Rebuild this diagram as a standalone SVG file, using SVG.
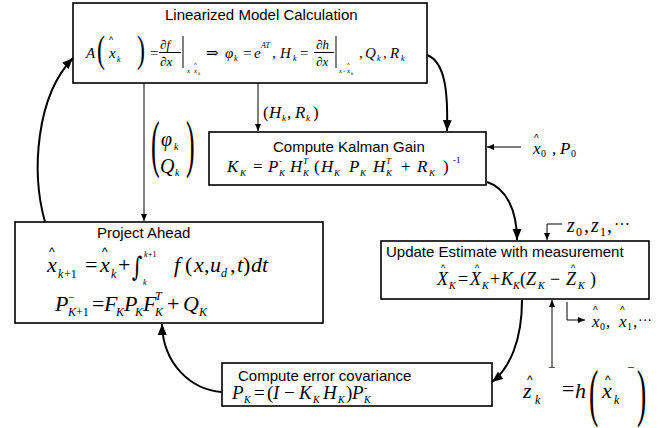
<svg xmlns="http://www.w3.org/2000/svg" width="670" height="428" viewBox="0 0 670 428">
<defs>
<style>
.box{fill:#fff;stroke:#000;stroke-width:1.6}
.title{font-family:"Liberation Sans",Arial,sans-serif;font-size:15px;fill:#000}
.m{font-family:"Liberation Serif","Times New Roman","DejaVu Serif",serif;font-style:italic;fill:#000}
.n{font-style:normal}
.hat{font-family:"Liberation Sans",Arial,sans-serif;font-style:normal;fill:#000}
.c{fill:none;stroke:#000;stroke-width:2}
.t{fill:none;stroke:#000;stroke-width:1}
.ln{stroke:#000;stroke-width:1;fill:none}
</style>
<marker id="big" markerUnits="userSpaceOnUse" markerWidth="12" markerHeight="10" refX="11" refY="4.5" orient="auto">
<path d="M0,0 L11,4.5 L0,9 z" fill="#000"/>
</marker>
<marker id="sm" markerUnits="userSpaceOnUse" markerWidth="8" markerHeight="7" refX="7" refY="3" orient="auto">
<path d="M0,0 L7,3 L0,6 z" fill="#000"/>
</marker>
</defs>
<rect width="670" height="428" fill="#fff"/>

<g id="connectors">
<path class="c" d="M45,222 C31,172 36,96 73,58" marker-end="url(#big)"/>
<path class="c" d="M427,55 C446,62 448,95 447,131" marker-end="url(#big)"/>
<path class="c" d="M487,182 C506,188 517,210 517,240" marker-end="url(#big)"/>
<path class="c" d="M522,300 C522,340 510,368 492,382" marker-end="url(#big)"/>
<path class="c" d="M222,392 C192,390 163,365 162,324" marker-end="url(#big)"/>
<path class="t" d="M144,83 V221" marker-end="url(#sm)"/>
<path class="t" d="M258,83 V131" marker-end="url(#sm)"/>
<path class="t" d="M521,147 H487" marker-end="url(#sm)"/>
<path class="t" d="M562,224 H547 V240" marker-end="url(#sm)"/>
<path class="t" d="M567,302 V320 H585" marker-end="url(#sm)"/>
<path class="t" d="M552,367 V300" marker-end="url(#sm)"/>
<!-- (H_k, R_k) label -->
<text class="m" font-size="17"><tspan class="n" x="263" y="118">(</tspan><tspan x="269" y="118">H</tspan><tspan x="282" y="121" font-size="9">k</tspan><tspan class="n" x="287" y="118">,</tspan><tspan x="295" y="118">R</tspan><tspan x="306" y="121" font-size="9">k</tspan><tspan class="n" x="313" y="118">)</tspan></text>
<!-- (phi_k ; Q_k) label -->
<text class="m n" font-size="26" transform="translate(151,165) scale(1,2.45)">(</text>
<text class="m n" font-size="26" transform="translate(186,165) scale(1,2.45)">)</text>
<text class="m" font-size="20"><tspan x="161" y="146">φ</tspan><tspan x="174" y="150" font-size="10">k</tspan><tspan x="160" y="173">Q</tspan><tspan x="175" y="176" font-size="10">k</tspan></text>
<!-- x0, P0 -->
<text class="m" font-size="17"><tspan x="533" y="154">x</tspan><tspan class="n" x="541" y="157" font-size="10">0</tspan><tspan class="n" x="552" y="154">,</tspan><tspan x="560" y="154">P</tspan><tspan class="n" x="571" y="157" font-size="10">0</tspan></text>
<text class="hat" font-size="10" x="534" y="142">^</text>
<!-- z0, z1 -->
<text class="m" font-size="20"><tspan x="567" y="232">z</tspan><tspan class="n" x="576" y="236" font-size="12">0</tspan><tspan class="n" x="584" y="232">,</tspan><tspan x="591" y="232">z</tspan><tspan class="n" x="600" y="236" font-size="12">1</tspan><tspan class="n" x="607" y="232">,</tspan><tspan class="n" x="614" y="230" font-size="16">···</tspan></text>
<!-- x0, x1 -->
<text class="m" font-size="17"><tspan x="592" y="327">x</tspan><tspan class="n" x="600" y="330" font-size="10">0</tspan><tspan class="n" x="606" y="327">,</tspan><tspan x="619" y="327">x</tspan><tspan class="n" x="627" y="330" font-size="10">1</tspan><tspan class="n" x="633" y="327">,</tspan><tspan class="n" x="638" y="325" font-size="14">···</tspan></text>
<text class="hat" font-size="10"><tspan x="593" y="314">^</tspan><tspan x="620" y="314">^</tspan></text>
<!-- z_k^- = h(x_k^-) -->
<text class="m" font-size="22"><tspan x="523" y="398">z</tspan><tspan x="535" y="404" font-size="12">k</tspan><tspan class="n" x="548" y="372" font-size="13">−</tspan><tspan class="n" x="562" y="396">=</tspan><tspan x="575" y="398">h</tspan><tspan x="602" y="398">x</tspan><tspan x="614" y="404" font-size="12">k</tspan><tspan class="n" x="627" y="372" font-size="13">−</tspan></text>
<text class="hat" font-size="12"><tspan x="527" y="384">^</tspan><tspan x="605" y="384">^</tspan></text>
<text class="m n" font-size="28" transform="translate(589,414) scale(1,2.3)">(</text>
<text class="m n" font-size="28" transform="translate(637,414) scale(1,2.3)">)</text>
</g>

<g id="linearized">
<rect class="box" x="73" y="3" width="354" height="80"/>
<text class="title" x="165" y="20">Linearized Model Calculation</text>
<text class="m" font-size="15"><tspan x="86" y="58">A</tspan><tspan x="109" y="58">x</tspan><tspan x="117" y="62" font-size="8">k</tspan><tspan class="n" x="150" y="58">=</tspan><tspan x="160" y="49" font-size="13">∂f</tspan><tspan x="160" y="66" font-size="13">∂x</tspan><tspan x="187" y="73" font-size="7">x</tspan><tspan x="194" y="73" font-size="7">x</tspan><tspan x="198" y="75" font-size="5">k</tspan><tspan class="n" x="206" y="58">⇒</tspan><tspan x="225" y="58">φ</tspan><tspan x="234" y="61" font-size="8">k</tspan><tspan class="n" x="243" y="58">=</tspan><tspan x="254" y="58">e</tspan><tspan x="261" y="48" font-size="8">AT</tspan><tspan class="n" x="272" y="58">,</tspan><tspan x="280" y="58">H</tspan><tspan x="293" y="61" font-size="8">k</tspan><tspan class="n" x="300" y="58">=</tspan><tspan x="316" y="49" font-size="13">∂h</tspan><tspan x="316" y="66" font-size="13">∂x</tspan><tspan x="339" y="73" font-size="7">x</tspan><tspan class="n" x="343" y="73" font-size="7">-</tspan><tspan x="347" y="73" font-size="7">x</tspan><tspan x="351" y="75" font-size="5">k</tspan><tspan class="n" x="359" y="58">,</tspan><tspan x="365" y="58">Q</tspan><tspan x="377" y="61" font-size="8">k</tspan><tspan class="n" x="383" y="58">,</tspan><tspan x="390" y="58">R</tspan><tspan x="401" y="61" font-size="8">k</tspan></text>
<text class="hat" font-size="9"><tspan x="109" y="43">^</tspan><tspan x="194" y="67" font-size="6">^</tspan><tspan x="347" y="67" font-size="6">^</tspan></text>
<text class="m n" font-size="24" transform="translate(97,62) scale(1,1.55)">(</text>
<text class="m n" font-size="24" transform="translate(137,62) scale(1,1.55)">)</text>
<line class="ln" x1="159" y1="52.5" x2="181" y2="52.5"/>
<line class="ln" x1="183" y1="36" x2="183" y2="68"/>
<line class="ln" x1="314" y1="52.5" x2="334" y2="52.5"/>
<line class="ln" x1="336" y1="36" x2="336" y2="68"/>
</g>

<g id="kalman">
<rect class="box" x="209" y="132" width="277" height="53"/>
<text class="title" x="273" y="152">Compute Kalman Gain</text>
<text class="m" font-size="17"><tspan x="227" y="172">K</tspan><tspan x="240" y="176" font-size="9">K</tspan><tspan class="n" x="253" y="172">=</tspan><tspan x="268" y="172">P</tspan><tspan class="n" x="279" y="164" font-size="9">-</tspan><tspan x="279" y="176" font-size="9">K</tspan><tspan x="290" y="172">H</tspan><tspan x="303" y="164" font-size="9">T</tspan><tspan x="303" y="176" font-size="9">K</tspan><tspan class="n" x="314" y="172">(</tspan><tspan x="321" y="172">H</tspan><tspan x="334" y="176" font-size="9">K</tspan><tspan x="349" y="172">P</tspan><tspan x="360" y="176" font-size="9">K</tspan><tspan x="373" y="172">H</tspan><tspan x="386" y="164" font-size="9">T</tspan><tspan x="386" y="176" font-size="9">K</tspan><tspan class="n" x="401" y="172">+</tspan><tspan x="417" y="172">R</tspan><tspan x="429" y="176" font-size="9">K</tspan><tspan class="n" x="443" y="172">)</tspan><tspan class="n" x="453" y="163" font-size="9">-1</tspan></text>
</g>

<g id="project">
<rect class="box" x="15" y="222" width="308" height="101"/>
<text class="title" x="97" y="238">Project Ahead</text>
<text class="m" font-size="22"><tspan x="47" y="272">x</tspan><tspan x="58" y="278" font-size="12">k</tspan><tspan class="n" x="64" y="278" font-size="12">+1</tspan><tspan class="n" x="85" y="272">=</tspan><tspan x="100" y="272">x</tspan><tspan x="111" y="278" font-size="12">k</tspan><tspan class="n" x="118" y="272">+</tspan><tspan x="144" y="257" font-size="8">k</tspan><tspan class="n" x="148" y="257" font-size="8">+1</tspan><tspan x="143" y="285" font-size="8">k</tspan><tspan x="174" y="272">f</tspan><tspan class="n" x="185" y="272">(</tspan><tspan x="194" y="272">x</tspan><tspan class="n" x="204" y="272">,</tspan><tspan x="210" y="272">u</tspan><tspan x="221" y="277" font-size="12">d</tspan><tspan class="n" x="230" y="272">,</tspan><tspan x="237" y="272">t</tspan><tspan class="n" x="243" y="272">)</tspan><tspan x="251" y="272">dt</tspan></text>
<text font-family="'DejaVu Serif',serif" font-size="20" fill="#000" transform="translate(132,276) scale(1,1.35)">∫</text>
<text class="hat" font-size="12"><tspan x="49" y="256">^</tspan><tspan x="102" y="256">^</tspan></text>
<text class="m" font-size="22"><tspan x="55" y="311">P</tspan><tspan class="n" x="68" y="301" font-size="12">−</tspan><tspan x="68" y="316" font-size="12">K</tspan><tspan class="n" x="76" y="316" font-size="12">+1</tspan><tspan class="n" x="92" y="311">=</tspan><tspan x="104" y="311">F</tspan><tspan x="116" y="316" font-size="12">K</tspan><tspan x="124" y="311">P</tspan><tspan x="135" y="316" font-size="12">K</tspan><tspan x="143" y="311">F</tspan><tspan x="155" y="300" font-size="12">T</tspan><tspan x="155" y="316" font-size="12">K</tspan><tspan class="n" x="167" y="311">+</tspan><tspan x="183" y="311">Q</tspan><tspan x="199" y="316" font-size="12">K</tspan></text>
</g>

<g id="update">
<rect class="box" x="381" y="241" width="268" height="58"/>
<text class="title" x="386" y="257">Update Estimate with measurement</text>
<text class="m" font-size="18"><tspan x="437" y="285">X</tspan><tspan x="449" y="289" font-size="10">K</tspan><tspan class="n" x="458" y="285">=</tspan><tspan x="470" y="285">X</tspan><tspan x="482" y="289" font-size="10">K</tspan><tspan class="n" x="490" y="285">+</tspan><tspan x="501" y="285">K</tspan><tspan x="513" y="289" font-size="10">K</tspan><tspan class="n" x="520" y="285">(</tspan><tspan x="526" y="285">Z</tspan><tspan x="538" y="289" font-size="10">K</tspan><tspan class="n" x="550" y="285">−</tspan><tspan x="566" y="285">Z</tspan><tspan x="578" y="289" font-size="10">K</tspan><tspan class="n" x="590" y="285">)</tspan></text>
<text class="hat" font-size="9"><tspan x="441" y="271">^</tspan><tspan x="475" y="271">^</tspan><tspan x="571" y="271">^</tspan></text>
</g>

<g id="errorcov">
<rect class="box" x="222" y="363" width="270" height="43"/>
<text class="title" x="238" y="381">Compute error covariance</text>
<text class="m" font-size="19"><tspan x="232" y="399">P</tspan><tspan x="244" y="403" font-size="10">K</tspan><tspan class="n" x="254" y="399">=</tspan><tspan class="n" x="267" y="399">(</tspan><tspan x="273" y="399">I</tspan><tspan class="n" x="284" y="399">−</tspan><tspan x="299" y="399">K</tspan><tspan x="313" y="403" font-size="10">K</tspan><tspan x="323" y="399">H</tspan><tspan x="338" y="403" font-size="10">K</tspan><tspan class="n" x="346" y="399">)</tspan><tspan x="352" y="399">P</tspan><tspan class="n" x="364" y="391" font-size="10">-</tspan><tspan x="364" y="403" font-size="10">K</tspan></text>
</g>
</svg>
